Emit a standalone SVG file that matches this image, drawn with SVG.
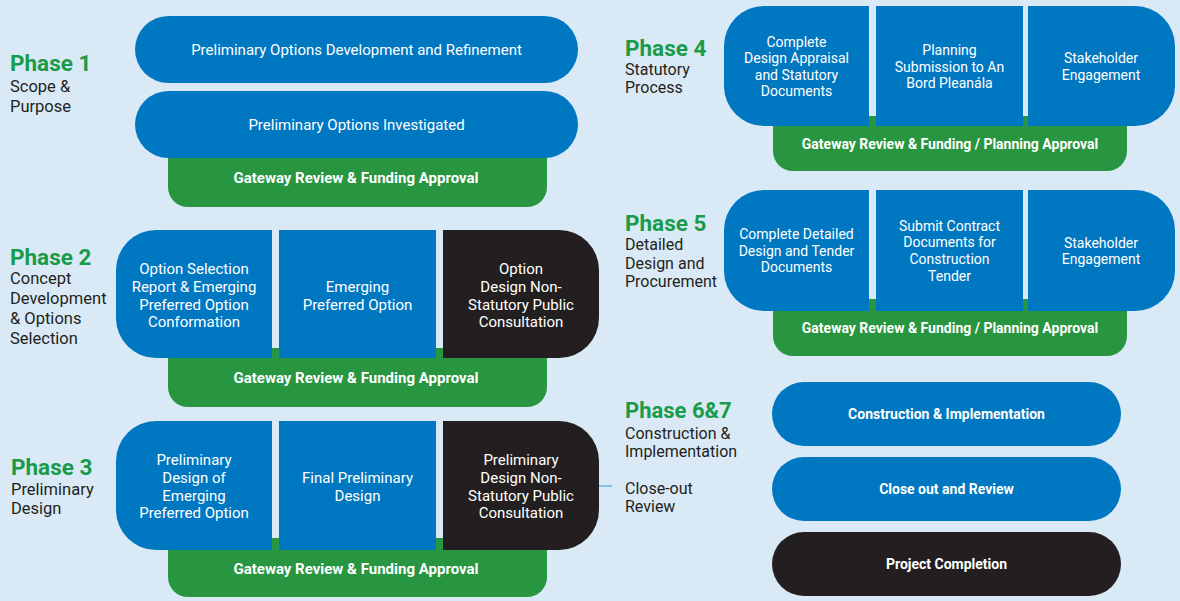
<svg xmlns="http://www.w3.org/2000/svg" width="1180" height="601" viewBox="0 0 1180 601">
<style>
.bg{fill:#d9eaf6}
.blue{fill:#0077c1}
.blk{fill:#231f20}
.grn{fill:#289640}
.t{font-family:Roboto,"Liberation Sans",sans-serif;fill:#ffffff;text-anchor:middle;font-size:15px}
.t14{font-size:14px}
.b{font-family:Roboto,"Liberation Sans",sans-serif;fill:#ffffff;text-anchor:middle;font-size:14px;font-weight:bold}
.b15{font-size:15px}
.ph{font-family:Roboto,"Liberation Sans",sans-serif;fill:#1a9b4a;font-size:22.5px;font-weight:bold}
.sub{font-family:Roboto,"Liberation Sans",sans-serif;fill:#231f20;font-size:16.5px}
.sub2{font-family:Roboto,"Liberation Sans",sans-serif;fill:#231f20;font-size:16px}
.con{stroke:#4aa3d8;stroke-width:1.2;fill:none}
</style>
<rect class="bg" x="0" y="0" width="1180" height="601"/>

<g id="connectors">
<line class="con" x1="598" y1="486" x2="612" y2="486"/>
</g>

<!-- Phase 1 -->
<g id="phase1-label">
<text class="ph" x="10" y="71">Phase 1</text>
<text class="sub" x="10" y="92">Scope &amp;</text>
<text class="sub" x="10" y="112">Purpose</text>
</g>
<g id="p1-gateway">
<path class="grn" d="M168 145 H547 V187 A20 20 0 0 1 527 207 H188 A20 20 0 0 1 168 187 Z"/>
<text class="b b15" x="356" y="183">Gateway Review &amp; Funding Approval</text>
</g>
<g id="p1-dev">
<rect class="blue" x="135" y="16" width="443" height="67" rx="33.5"/>
<text class="t" x="356.5" y="55">Preliminary Options Development and Refinement</text>
</g>
<g id="p1-inv">
<rect class="blue" x="135" y="91" width="443" height="67" rx="33.5"/>
<text class="t" x="356.5" y="130">Preliminary Options Investigated</text>
</g>

<!-- Phase 2 -->
<g id="phase2-label">
<text class="ph" x="10" y="265">Phase 2</text>
<text class="sub" x="10" y="284">Concept</text>
<text class="sub" x="10" y="304">Development</text>
<text class="sub" x="10" y="324">&amp; Options</text>
<text class="sub" x="10" y="344">Selection</text>
</g>
<g id="p2-gateway">
<path class="grn" d="M168 348 H547 V387 A20 20 0 0 1 527 407 H188 A20 20 0 0 1 168 387 Z"/>
<text class="b b15" x="356" y="383">Gateway Review &amp; Funding Approval</text>
</g>
<g id="p2-a">
<path class="blue" d="M156 230 H272 V358 H156 A40 40 0 0 1 116 318 V270 A40 40 0 0 1 156 230 Z"/>
<text class="t" x="194" y="274">Option Selection</text>
<text class="t" x="194" y="292">Report &amp; Emerging</text>
<text class="t" x="194" y="310">Preferred Option</text>
<text class="t" x="194" y="327">Conformation</text>
</g>
<g id="p2-b">
<rect class="blue" x="279" y="230" width="157" height="128"/>
<text class="t" x="357.5" y="292">Emerging</text>
<text class="t" x="357.5" y="310">Preferred Option</text>
</g>
<g id="p2-c">
<path class="blk" d="M443 230 H559 A40 40 0 0 1 599 270 V318 A40 40 0 0 1 559 358 H443 Z"/>
<text class="t" x="521" y="274">Option</text>
<text class="t" x="521" y="292">Design Non-</text>
<text class="t" x="521" y="310">Statutory Public</text>
<text class="t" x="521" y="327">Consultation</text>
</g>

<!-- Phase 3 -->
<g id="phase3-label">
<text class="ph" x="11" y="475">Phase 3</text>
<text class="sub" x="11" y="495">Preliminary</text>
<text class="sub" x="11" y="514">Design</text>
</g>
<g id="p3-gateway">
<path class="grn" d="M168 538 H547 V577 A20 20 0 0 1 527 597 H188 A20 20 0 0 1 168 577 Z"/>
<text class="b b15" x="356" y="574">Gateway Review &amp; Funding Approval</text>
</g>
<g id="p3-a">
<path class="blue" d="M156 421 H272 V550 H156 A40 40 0 0 1 116 510 V461 A40 40 0 0 1 156 421 Z"/>
<text class="t" x="194" y="465">Preliminary</text>
<text class="t" x="194" y="483">Design of</text>
<text class="t" x="194" y="501">Emerging</text>
<text class="t" x="194" y="518">Preferred Option</text>
</g>
<g id="p3-b">
<rect class="blue" x="279" y="421" width="157" height="129"/>
<text class="t" x="357.5" y="483">Final Preliminary</text>
<text class="t" x="357.5" y="501">Design</text>
</g>
<g id="p3-c">
<path class="blk" d="M443 421 H559 A40 40 0 0 1 599 461 V510 A40 40 0 0 1 559 550 H443 Z"/>
<text class="t" x="521" y="465">Preliminary</text>
<text class="t" x="521" y="483">Design Non-</text>
<text class="t" x="521" y="501">Statutory Public</text>
<text class="t" x="521" y="518">Consultation</text>
</g>

<!-- Phase 4 -->
<g id="phase4-label">
<text class="ph" x="625" y="56">Phase 4</text>
<text class="sub2" x="625" y="75">Statutory</text>
<text class="sub2" x="625" y="93">Process</text>
</g>
<g id="p4-gateway">
<path class="grn" d="M773 116 H1127 V151 A20 20 0 0 1 1107 171 H793 A20 20 0 0 1 773 151 Z"/>
<text class="b" x="950" y="149">Gateway Review &amp; Funding / Planning Approval</text>
</g>
<g id="p4-a">
<path class="blue" d="M764 6 H869 V126 H764 A40 40 0 0 1 724 86 V46 A40 40 0 0 1 764 6 Z"/>
<text class="t t14" x="796.5" y="47">Complete</text>
<text class="t t14" x="796.5" y="63">Design Appraisal</text>
<text class="t t14" x="796.5" y="80">and Statutory</text>
<text class="t t14" x="796.5" y="96">Documents</text>
</g>
<g id="p4-b">
<rect class="blue" x="876" y="6" width="147" height="120"/>
<text class="t t14" x="949.5" y="55">Planning</text>
<text class="t t14" x="949.5" y="72">Submission to An</text>
<text class="t t14" x="949.5" y="88">Bord Pleanála</text>
</g>
<g id="p4-c">
<path class="blue" d="M1028 6 H1135 A40 40 0 0 1 1175 46 V86 A40 40 0 0 1 1135 126 H1028 Z"/>
<text class="t t14" x="1101" y="63">Stakeholder</text>
<text class="t t14" x="1101" y="80">Engagement</text>
</g>

<!-- Phase 5 -->
<g id="phase5-label">
<text class="ph" x="625" y="231">Phase 5</text>
<text class="sub2" x="625" y="250">Detailed</text>
<text class="sub2" x="625" y="269">Design and</text>
<text class="sub2" x="625" y="287">Procurement</text>
</g>
<g id="p5-gateway">
<path class="grn" d="M773 299 H1127 V336 A20 20 0 0 1 1107 356 H793 A20 20 0 0 1 773 336 Z"/>
<text class="b" x="950" y="333">Gateway Review &amp; Funding / Planning Approval</text>
</g>
<g id="p5-a">
<path class="blue" d="M764 190 H869 V311 H764 A40 40 0 0 1 724 271 V230 A40 40 0 0 1 764 190 Z"/>
<text class="t t14" x="796.5" y="239">Complete Detailed</text>
<text class="t t14" x="796.5" y="256">Design and Tender</text>
<text class="t t14" x="796.5" y="272">Documents</text>
</g>
<g id="p5-b">
<rect class="blue" x="876" y="190" width="147" height="121"/>
<text class="t t14" x="949.5" y="231">Submit Contract</text>
<text class="t t14" x="949.5" y="247">Documents for</text>
<text class="t t14" x="949.5" y="264">Construction</text>
<text class="t t14" x="949.5" y="281">Tender</text>
</g>
<g id="p5-c">
<path class="blue" d="M1028 190 H1135 A40 40 0 0 1 1175 230 V271 A40 40 0 0 1 1135 311 H1028 Z"/>
<text class="t t14" x="1101" y="248">Stakeholder</text>
<text class="t t14" x="1101" y="264">Engagement</text>
</g>

<!-- Phase 6&7 -->
<g id="phase67-label">
<text class="ph" x="625" y="418" style="font-size:22px">Phase 6&amp;7</text>
<text class="sub2" x="625" y="439">Construction &amp;</text>
<text class="sub2" x="625" y="457">Implementation</text>
<text class="sub2" x="625" y="494">Close-out</text>
<text class="sub2" x="625" y="512">Review</text>
</g>
<g id="p6-construction">
<rect class="blue" x="772" y="382" width="349" height="64" rx="32"/>
<text class="b" x="946.5" y="419">Construction &amp; Implementation</text>
</g>
<g id="p6-closeout">
<rect class="blue" x="772" y="457" width="349" height="64" rx="32"/>
<text class="b" x="946.5" y="494">Close out and Review</text>
</g>
<g id="p7-completion">
<rect class="blk" x="772" y="532" width="349" height="64" rx="32"/>
<text class="b" x="946.5" y="569">Project Completion</text>
</g>
</svg>
